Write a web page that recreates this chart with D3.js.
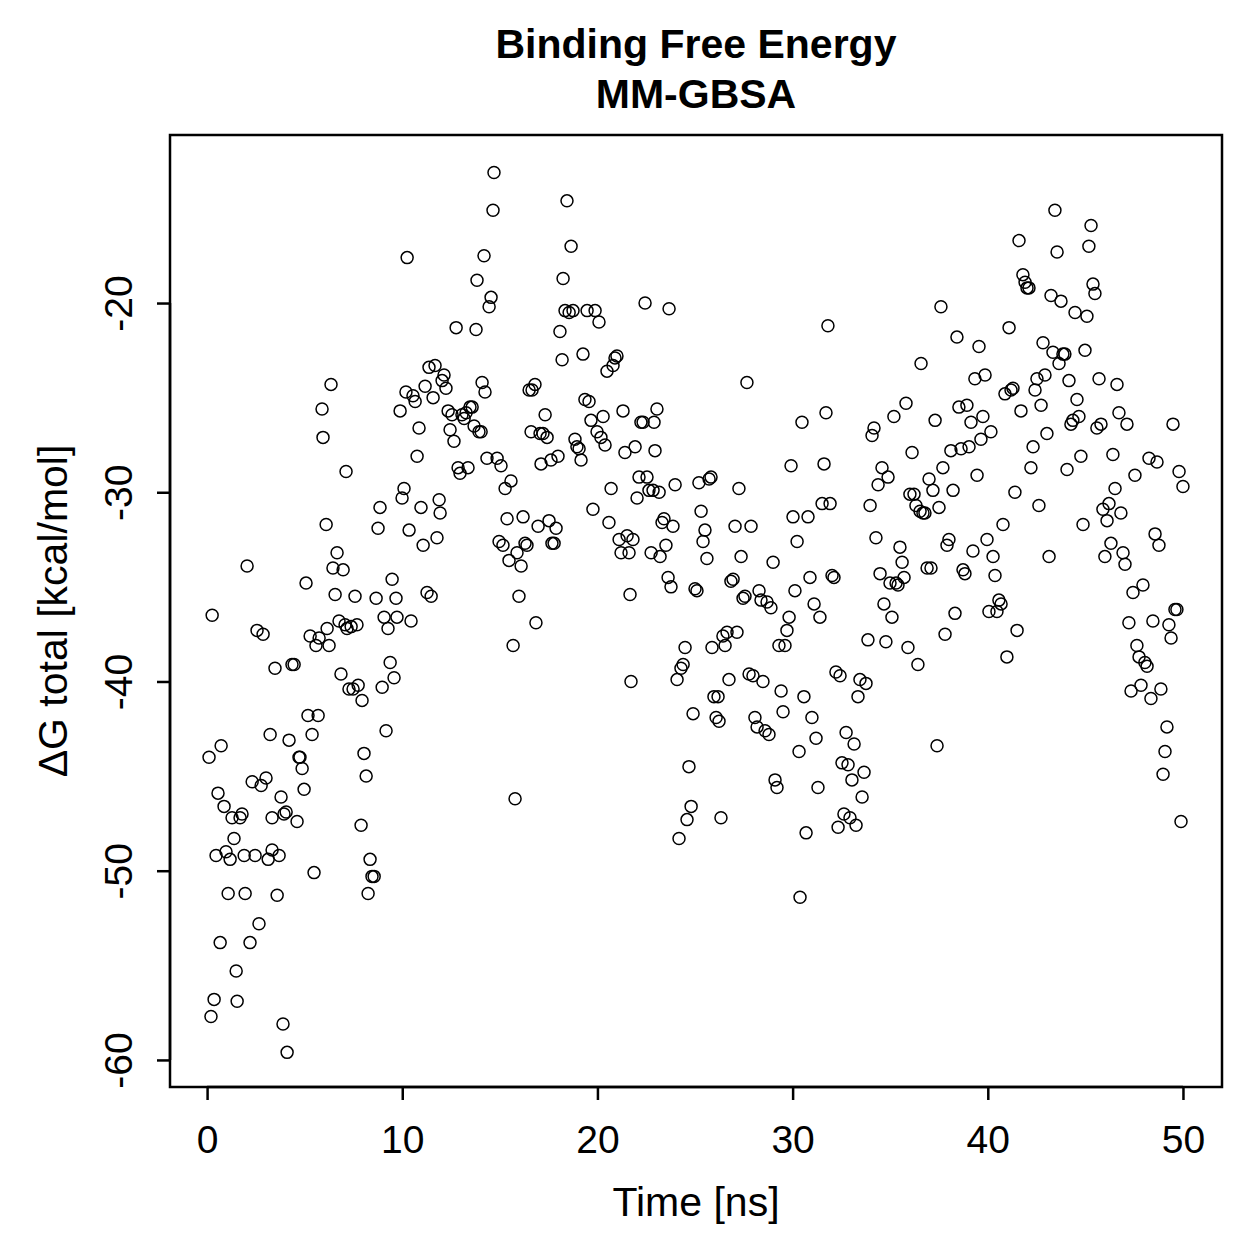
<!DOCTYPE html>
<html>
<head>
<meta charset="utf-8">
<script src="https://cdn.jsdelivr.net/npm/d3@7"></script>
<style>
  body { margin: 0; background: #fff; }
  svg { display: block; }
  text { font-family: "Liberation Sans", Arial, Helvetica, sans-serif; fill: #000; }
</style>
</head>
<body>
<div id="chart"></div>
<script>
// time [ns]
const timeNs = [
  0.10,0.26,0.20,0.36,0.46,0.56,0.72,0.67,0.87,0.97,1.08,1.18,1.28,1.38,1.49,1.54,1.69,1.79,1.90,1.95,2.05,2.20,2.31,2.46,2.56,2.66,2.77,2.87,
  3.02,3.13,3.23,3.33,3.33,3.48,3.59,3.69,3.79,3.89,3.94,4.05,4.10,4.20,4.35,4.46,4.61,4.71,4.76,4.87,4.97,5.07,5.17,5.28,5.38,5.48,5.58,5.69,5.74,
  5.89,5.94,6.10,6.15,6.25,6.35,6.45,6.56,6.66,6.76,6.86,6.97,7.07,7.12,7.17,7.27,7.38,7.48,7.58,7.68,7.74,7.89,7.94,8.04,8.15,8.25,8.35,8.45,8.56,
  8.66,8.76,8.86,8.97,9.07,9.17,9.27,9.38,9.48,9.58,9.68,9.73,9.89,9.99,10.09,10.19,10.25,10.35,10.45,10.55,10.66,10.76,10.86,10.96,11.07,11.17,11.27,11.37,11.48,11.58,11.68,11.78,11.89,
  11.94,12.04,12.14,12.24,12.35,12.45,12.55,12.65,12.76,12.86,12.96,13.06,13.17,13.27,13.37,13.47,13.58,13.68,13.78,13.83,13.93,14.04,14.09,14.19,14.24,14.34,14.45,14.55,14.65,14.70,
  14.86,14.96,15.06,15.16,15.27,15.37,15.47,15.57,15.68,15.78,15.88,15.98,16.09,16.19,16.29,16.39,16.50,16.60,16.65,16.80,16.85,16.96,17.06,17.11,17.21,17.32,17.42,17.52,17.62,17.67,17.78,17.88,17.98,
  18.08,18.19,18.24,18.34,18.44,18.55,18.65,18.75,18.85,18.95,19.06,19.16,19.26,19.36,19.47,19.57,19.67,19.77,19.88,19.98,20.08,20.18,20.29,20.39,20.49,20.59,20.70,20.80,20.90,21.00,21.11,21.21,
  21.31,21.41,21.52,21.62,21.67,21.72,21.82,21.93,22.03,22.13,22.23,22.34,22.44,22.54,22.64,22.75,22.85,22.90,22.95,23.05,23.16,23.21,23.31,23.41,23.51,23.62,23.67,23.77,23.87,23.98,24.08,24.18,
  24.28,24.39,24.49,24.59,24.69,24.80,24.90,25.00,25.10,25.20,25.31,25.41,25.51,25.61,25.72,25.82,25.87,25.97,26.08,26.18,26.23,26.33,26.43,26.54,26.64,26.74,26.84,26.95,27.05,27.15,27.25,27.36,
  27.46,27.56,27.66,27.77,27.87,27.97,28.07,28.18,28.28,28.38,28.48,28.59,28.69,28.79,28.89,29.00,29.10,29.20,29.30,29.41,29.51,29.61,29.71,29.82,29.92,30.02,30.12,30.23,30.33,30.38,
  30.48,30.58,30.69,30.79,30.89,30.99,31.10,31.20,31.30,31.40,31.51,31.61,31.71,31.81,31.92,32.02,32.12,32.22,32.33,32.43,32.53,32.63,32.74,32.84,32.94,33.04,33.15,33.25,33.35,33.45,
  33.56,33.66,33.76,33.86,33.97,34.07,34.17,34.27,34.38,34.48,34.58,34.68,34.78,34.89,34.99,35.09,35.19,35.30,35.40,35.50,35.61,35.71,35.81,35.91,36.01,36.12,36.22,36.32,36.42,36.53,36.58,36.68,
  36.78,36.89,36.99,37.09,37.19,37.30,37.40,37.50,37.60,37.70,37.81,37.91,38.01,38.11,38.22,38.32,38.42,38.52,38.63,38.73,38.83,38.93,39.04,39.14,39.24,39.34,39.45,39.55,
  39.65,39.75,39.86,39.96,40.06,40.16,40.27,40.37,40.47,40.57,40.68,40.78,40.88,40.98,41.09,41.19,41.29,41.39,41.50,41.60,41.70,41.80,41.91,42.01,42.11,42.21,42.32,42.42,42.52,42.62,
  42.73,42.83,42.93,43.03,43.14,43.24,43.34,43.44,43.55,43.65,43.75,43.85,43.95,44.06,44.16,44.26,44.36,44.47,44.57,44.67,44.77,44.88,44.98,45.08,45.18,45.29,45.39,45.49,45.59,45.70,
  45.80,45.90,46.00,46.11,46.21,46.31,46.41,46.52,46.62,46.72,46.82,46.93,47.03,47.13,47.23,47.34,47.44,47.54,47.64,47.75,47.85,47.95,48.05,48.16,48.26,48.36,48.46,48.57,48.67,48.77,48.87,48.98,49.08,49.18,49.28,49.39,49.49,49.59,49.69,49.80,49.90,50.00
];

// dG total [kcal/mol], same order
const dgTotal = [
  -44.0,-36.5,-57.7,-56.8,-49.2,-45.9,-43.4,-53.8,-46.6,-49.0,-51.2,-49.4,-47.2,-48.3,-55.3,-56.9,-47.2,-47.0,-49.2,-51.2,-33.9,-53.8,-45.3,-49.2,-37.3,-52.8,-45.5,-37.5,
  -45.1,-49.4,-42.8,-47.2,-48.9,-39.3,-51.3,-49.2,-46.1,-58.1,-47.0,-46.9,-59.6,-43.1,-39.1,-39.1,-47.4,-44.0,-44.0,-44.6,-45.7,-34.8,-41.8,-37.6,-42.8,-50.1,-38.1,-41.8,-37.7,
  -25.6,-27.1,-31.7,-37.2,-38.1,-24.3,-34.0,-35.4,-33.2,-36.8,-39.6,-34.1,-37.0,-28.9,-37.2,-40.4,-37.1,-40.4,-35.5,-37.0,-40.2,-47.6,-41.0,-43.8,-45.0,-51.2,-49.4,-50.3,-50.3,
  -35.6,-31.9,-30.8,-40.3,-36.6,-42.6,-37.2,-39.0,-34.6,-39.8,-35.6,-36.6,-25.7,-30.3,-29.8,-24.7,-17.6,-32.0,-36.8,-24.9,-25.2,-28.1,-26.6,-30.8,-32.8,-24.4,-35.3,-23.4,-35.5,-25.0,-23.3,-32.4,-30.4,
  -31.1,-24.1,-23.8,-24.5,-25.7,-26.7,-25.9,-27.3,-21.3,-28.7,-29.0,-25.9,-26.1,-25.8,-28.7,-25.5,-25.5,-26.5,-21.4,-18.8,-26.8,-26.8,-24.2,-17.5,-24.7,-28.2,-20.2,-19.7,-15.1,-13.1,
  -28.2,-32.6,-28.6,-32.8,-29.8,-31.4,-33.6,-29.4,-38.1,-46.2,-33.2,-35.5,-33.9,-31.3,-32.7,-32.8,-24.6,-26.8,-24.6,-24.3,-36.9,-31.8,-26.9,-28.5,-26.9,-25.9,-27.1,-31.5,-28.3,-32.7,-32.7,-31.9,-28.1,
  -21.5,-23.0,-18.7,-20.4,-14.6,-20.5,-17.0,-20.4,-27.2,-27.6,-27.7,-28.3,-22.7,-25.1,-20.4,-25.2,-26.2,-30.9,-20.4,-26.8,-21.0,-27.1,-26.0,-27.5,-23.6,-31.6,-29.8,-23.3,-22.9,-22.8,-32.5,-33.2,
  -25.7,-27.9,-32.3,-33.2,-35.4,-40.0,-32.5,-27.6,-30.3,-29.2,-26.3,-26.3,-20.0,-29.2,-29.9,-33.2,-29.9,-26.3,-27.8,-25.6,-30.0,-33.4,-31.6,-31.4,-32.8,-34.5,-20.3,-35.0,-31.8,-29.6,-39.9,-48.3,
  -39.3,-39.1,-38.2,-47.3,-44.5,-46.6,-41.7,-35.1,-35.2,-29.5,-31.0,-32.6,-32.0,-33.5,-29.3,-29.2,-38.2,-40.8,-41.9,-40.8,-42.1,-47.2,-37.6,-38.1,-37.4,-39.9,-34.7,-34.6,-31.8,-37.4,-29.8,-33.4,
  -35.6,-35.5,-24.2,-39.6,-31.8,-39.7,-41.9,-42.4,-35.2,-35.7,-40.0,-42.6,-35.8,-42.8,-36.1,-33.7,-45.2,-45.6,-38.1,-40.5,-41.6,-38.1,-37.3,-36.6,-28.6,-31.3,-35.2,-32.6,-43.7,-51.4,
  -26.3,-40.8,-48.0,-31.3,-34.5,-41.9,-35.9,-43.0,-45.6,-36.6,-30.6,-28.5,-25.8,-21.2,-30.6,-34.4,-34.5,-39.5,-47.7,-39.7,-44.3,-47.0,-42.7,-44.4,-47.2,-45.2,-43.3,-47.6,-40.8,-39.9,
  -46.1,-44.8,-40.1,-37.8,-30.7,-27.0,-26.6,-32.4,-29.6,-34.3,-28.7,-35.9,-37.9,-29.2,-34.8,-36.6,-26.0,-34.8,-34.9,-32.9,-33.7,-34.5,-25.3,-38.2,-30.1,-27.9,-30.1,-30.7,-39.1,-31.0,-23.2,-31.1,
  -31.1,-34.0,-29.3,-34.0,-29.9,-26.2,-43.4,-30.8,-20.2,-28.7,-37.5,-32.8,-32.5,-27.8,-29.9,-36.4,-21.8,-25.5,-27.7,-34.1,-34.3,-25.4,-27.6,-26.3,-33.1,-24.0,-29.1,-22.3,
  -27.2,-26.0,-23.8,-32.5,-36.3,-26.8,-33.4,-34.4,-36.3,-35.7,-35.9,-31.7,-24.8,-38.7,-21.3,-24.6,-24.5,-30.0,-37.3,-16.7,-25.7,-18.5,-18.9,-19.2,-19.2,-28.7,-27.6,-24.6,-24.0,-30.7,
  -25.4,-22.1,-23.8,-26.9,-33.4,-19.6,-22.6,-15.1,-17.3,-23.2,-19.9,-22.7,-22.7,-28.8,-24.1,-26.4,-26.2,-20.5,-25.1,-26.0,-28.1,-31.7,-22.5,-20.7,-17.0,-15.9,-19.0,-19.5,-26.6,-24.0,
  -26.4,-30.9,-33.4,-31.5,-30.6,-32.7,-28.0,-29.8,-24.3,-25.8,-31.1,-33.2,-33.8,-26.4,-36.9,-40.5,-35.3,-29.1,-38.1,-38.7,-40.2,-34.9,-39.0,-39.2,-28.2,-40.9,-36.8,-32.2,-28.4,-32.8,-40.4,-44.9,-43.7,-42.4,-37.0,-37.7,-26.4,-36.2,-36.2,-28.9,-47.4,-29.7
];

const xTicks = [0, 10, 20, 30, 40, 50];
const yTicks = [-60, -50, -40, -30, -20];
const titleLines = ["Binding Free Energy", "MM-GBSA"];
const xLabel = "Time [ns]";
const yLabel = "\u0394G total [kcal/mol]";

const width = 1259, height = 1259;
const box = {left: 170, right: 1222, top: 135, bottom: 1087};

const points = timeNs.map((t, i) => ({t: t, g: dgTotal[i]}));

const x = d3.scaleLinear().domain([-1.9, 52.0]).range([box.left, box.right]);
const y = d3.scaleLinear().domain([-61.43, -11.12]).range([box.bottom, box.top]);

const svg = d3.select("#chart").append("svg")
    .attr("width", width).attr("height", height);

svg.append("rect").attr("width", width).attr("height", height).attr("fill", "#fff");

// points
svg.append("g").selectAll("circle").data(points).enter().append("circle")
    .attr("cx", d => x(d.t))
    .attr("cy", d => y(d.g))
    .attr("r", 6)
    .attr("fill", "none")
    .attr("stroke", "#000")
    .attr("stroke-width", 1.5);

// axes
const xAxis = svg.append("g")
    .attr("transform", "translate(0," + box.bottom + ")")
    .call(d3.axisBottom(x).tickValues(xTicks).tickSize(13).tickSizeOuter(0));
const yAxis = svg.append("g")
    .attr("transform", "translate(" + box.left + ",0)")
    .call(d3.axisLeft(y).tickValues(yTicks).tickSize(13).tickFormat(d => String(d)).tickSizeOuter(0));

[xAxis, yAxis].forEach(g => {
    g.select(".domain").remove();
    g.selectAll(".tick line").attr("stroke", "#000").attr("stroke-width", 2.5);
    g.selectAll(".tick text").style("font-size", "39px").attr("fill", "#000");
});
// axis line spans first to last tick
xAxis.append("line").attr("x1", x(0)).attr("x2", x(50)).attr("stroke", "#000").attr("stroke-width", 2.5);
yAxis.append("line").attr("y1", y(-60)).attr("y2", y(-20)).attr("stroke", "#000").attr("stroke-width", 2.5);

xAxis.selectAll(".tick text").attr("dy", null).attr("y", 66);
yAxis.selectAll(".tick text")
    .attr("x", null).attr("dy", null)
    .attr("text-anchor", "middle")
    .attr("transform", "translate(-38,0) rotate(-90)");

// box
svg.append("rect")
    .attr("x", box.left).attr("y", box.top)
    .attr("width", box.right - box.left).attr("height", box.bottom - box.top)
    .attr("fill", "none").attr("stroke", "#000").attr("stroke-width", 2.5);

// titles
const cx = (box.left + box.right) / 2;
svg.selectAll("text.title").data(titleLines).enter().append("text")
    .attr("class", "title")
    .attr("x", cx).attr("y", (d, i) => 58 + i * 50)
    .attr("text-anchor", "middle")
    .style("font-size", "41px").style("font-weight", "bold")
    .text(d => d);

svg.append("text")
    .attr("x", cx).attr("y", 1216)
    .attr("text-anchor", "middle")
    .style("font-size", "41px")
    .text(xLabel);

svg.append("text")
    .attr("transform", "translate(67," + ((box.top + box.bottom) / 2) + ") rotate(-90)")
    .attr("text-anchor", "middle")
    .style("font-size", "41px")
    .text(yLabel);
</script>
</body>
</html>
